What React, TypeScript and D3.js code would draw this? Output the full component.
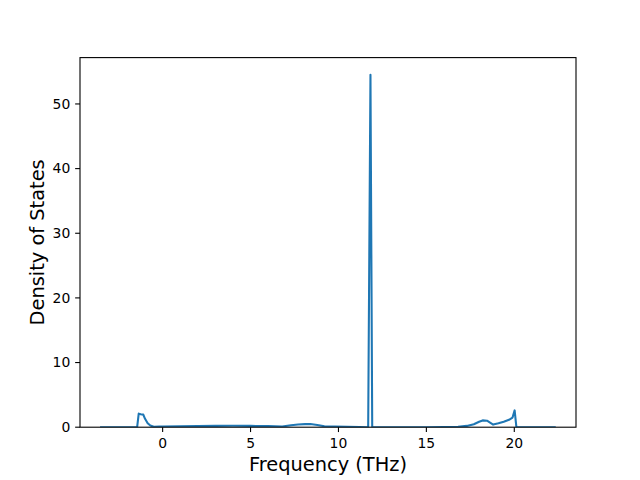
import React from "react";
import * as d3 from "d3";

const freqs = [
  -3.5, -1.45, -1.36, -1.25, -1.1, -1.0, -0.85, -0.7, -0.5, -0.2, 0, 1, 2, 3, 4, 5, 6, 6.8,
  7.3, 7.7, 8.1, 8.4, 8.8, 9.2, 9.8, 10.5, 11.2, 11.69, 11.82, 11.92, 12.2, 13, 14, 15, 16,
  16.8, 17.3, 17.7, 18.0, 18.2, 18.45, 18.6, 18.8, 19.1, 19.4, 19.7, 19.9, 20.02, 20.12,
  20.4, 22.3,
];
const dos = [
  0, 0, 2.1, 2.0, 1.95, 1.3, 0.6, 0.25, 0.08, 0.1, 0.12, 0.15, 0.18, 0.2, 0.22, 0.2, 0.18, 0.12,
  0.3, 0.42, 0.48, 0.5, 0.35, 0.15, 0.1, 0.05, 0.02, 0, 54.5, 0, 0, 0, 0, 0, 0.02,
  0.08, 0.2, 0.45, 0.85, 1.05, 1.0, 0.75, 0.4, 0.6, 0.85, 1.15, 1.5, 2.6, 0,
  0, 0,
];
const xTicks = [0, 5, 10, 15, 20];
const yTicks = [0, 10, 20, 30, 40, 50];

const W = 640, H = 480;
const L = 80, R = 576, T = 57.6, B = 427.2;

export default function App() {
  const x = d3.scaleLinear().domain([-4.7, 23.51]).range([L, R]);
  const y = d3.scaleLinear().domain([0, 57.17]).range([B, T]);
  const line = d3
    .line<number>()
    .x((_, i) => x(freqs[i]))
    .y((d) => y(d));
  const font = "DejaVu Sans, sans-serif";
  return (
    <svg
      width={W}
      height={H}
      style={{ position: "absolute", left: 0, top: 0, background: "white" }}
      fontFamily={font}
    >
      <rect x={0} y={0} width={W} height={H} fill="white" />
      <defs>
        <clipPath id="clip">
          <rect x={L} y={T} width={R - L} height={B - T} />
        </clipPath>
      </defs>
      <path
        d={line(dos) || ""}
        fill="none"
        stroke="#1f77b4"
        strokeWidth={2.08}
        strokeLinejoin="round"
        strokeLinecap="square"
        clipPath="url(#clip)"
      />
      <rect x={L} y={T} width={R - L} height={B - T} fill="none" stroke="black" strokeWidth={1.1} />
      {xTicks.map((t) => (
        <g key={"x" + t}>
          <line x1={x(t)} x2={x(t)} y1={B} y2={B + 4.86} stroke="black" strokeWidth={1.1} />
          <text x={x(t)} y={B + 4.86 + 4.86 + 11} textAnchor="middle" fontSize={13.9}>
            {t}
          </text>
        </g>
      ))}
      {yTicks.map((t) => (
        <g key={"y" + t}>
          <line x1={L} x2={L - 4.86} y1={y(t)} y2={y(t)} stroke="black" strokeWidth={1.1} />
          <text x={L - 4.86 - 4.86} y={y(t)} dy="0.35em" textAnchor="end" fontSize={13.9}>
            {t}
          </text>
        </g>
      ))}
      <text x={(L + R) / 2} y={470.7} textAnchor="middle" fontSize={19.4}>
        Frequency (THz)
      </text>
      <text
        transform={`translate(43.5, ${(T + B) / 2}) rotate(-90)`}
        textAnchor="middle"
        fontSize={19.4}
      >
        Density of States
      </text>
    </svg>
  );
}
